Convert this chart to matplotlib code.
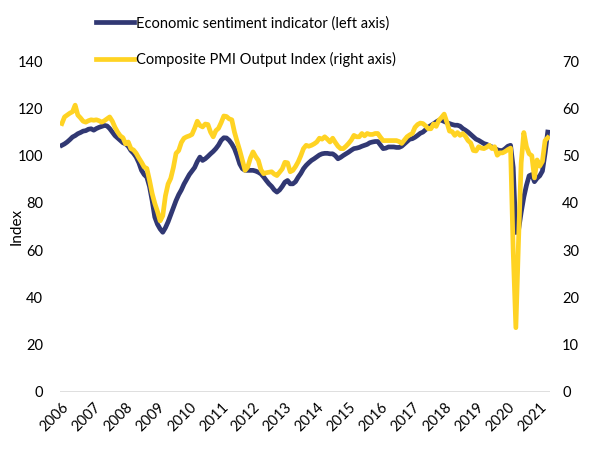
import numpy as np
import pandas as pd
from matplotlib import pyplot as plt

plt.rcParams['font.family'] = ['Lato', 'DejaVu Sans']

years = [str(y) for y in range(2006, 2022)]

esi = [104.4, 105.0, 105.8, 106.8, 107.9, 108.5, 109.3, 109.8, 110.4, 110.6, 111.2, 111.4,
       110.8, 111.5, 112.0, 112.4, 112.8, 112.6, 111.5, 110.0, 108.5, 107.5, 106.5, 105.5,
       105.0, 104.0, 102.2, 101.0, 99.4, 97.0, 93.8, 92.0, 90.9, 87.0, 81.0, 74.0,
       71.0, 69.0, 67.6, 69.5, 72.0, 75.0, 78.0, 81.0, 83.5, 85.5, 88.0, 90.0,
       92.0, 93.5, 95.0, 97.5, 99.4, 98.0, 98.7, 99.7, 100.8, 101.8, 103.0, 104.5,
       106.5, 107.6, 107.5, 106.5, 105.0, 103.0, 100.0, 96.5, 94.5, 93.8, 93.8, 93.8,
       93.8, 93.5, 93.0, 92.3, 91.0, 89.5, 88.1, 87.0, 85.5, 84.6, 85.5, 87.0,
       88.8, 89.5, 88.1, 88.1, 89.0, 90.9, 92.5, 94.5, 95.9, 97.0, 98.0, 98.7,
       99.5, 100.3, 100.8, 101.0, 101.0, 100.8, 100.8, 100.0, 98.7, 99.3, 100.1, 100.8,
       101.5, 102.3, 103.0, 103.2, 103.5, 104.0, 104.4, 104.8, 105.5, 105.8, 106.0, 106.0,
       104.5, 103.0, 103.2, 103.7, 103.7, 103.7, 103.5, 103.5, 104.0, 105.0, 106.0, 107.0,
       107.2, 107.8, 108.6, 109.5, 110.0, 111.0, 112.1, 112.8, 113.5, 114.3, 115.0, 115.0,
       114.5, 114.0, 113.6, 113.2, 112.9, 112.9, 112.5, 111.5, 110.8, 110.0, 109.0, 108.0,
       107.0, 106.5, 105.8, 105.1, 104.8, 104.2, 103.7, 103.2, 102.5, 102.2, 102.2, 103.0,
       104.0, 104.4, 95.0, 67.5, 68.5, 76.0, 82.5, 87.5, 91.5, 92.0, 89.0, 90.5,
       91.5, 93.5, 101.0, 110.0]

pmi = [56.8, 58.2, 58.6, 59.0, 59.3, 60.7, 58.6, 58.0, 57.3, 57.1, 57.4, 57.6,
       57.5, 57.6, 57.4, 57.1, 57.4, 57.8, 58.2, 57.3, 56.0, 55.0, 54.2, 53.8,
       52.5, 52.9, 51.5, 51.2, 50.5, 49.5, 48.6, 47.6, 47.3, 44.8, 42.0, 39.9,
       38.2, 36.2, 37.3, 41.5, 44.0, 45.2, 47.5, 50.5, 51.1, 52.8, 53.7, 54.0,
       54.2, 54.5, 55.8, 57.3, 56.4, 56.1, 56.7, 56.6, 55.0, 54.0, 55.3, 55.8,
       57.0, 58.4, 58.3, 57.8, 57.6, 55.0, 53.0, 51.1, 49.0, 46.9, 47.6, 49.5,
       50.8, 49.8, 49.0, 47.0, 46.2, 46.4, 46.5, 46.6, 46.1, 45.8, 46.5, 47.2,
       48.6, 48.5, 46.6, 46.9, 47.7, 48.7, 50.0, 51.5, 52.2, 52.0, 52.2, 52.5,
       52.9, 53.7, 53.5, 54.0, 53.5, 52.9, 53.7, 52.8, 52.0, 51.5, 51.5, 52.0,
       52.6, 53.3, 54.3, 54.0, 54.0, 54.7, 54.2, 54.7, 54.5, 54.5, 54.7, 54.7,
       53.9, 53.2, 53.2, 53.2, 53.2, 53.2, 53.2, 53.0, 52.6, 53.3, 54.0, 54.4,
       54.7, 56.0, 56.6, 56.9, 56.8, 56.3, 55.7, 55.7, 56.7, 56.2, 57.5, 58.1,
       58.8, 57.1, 55.2, 55.1, 54.3, 54.9, 54.3, 54.7, 54.1, 53.2, 52.7, 51.1,
       51.0, 51.9, 51.6, 51.5, 51.8, 52.2, 51.5, 51.9, 50.1, 50.6, 50.6, 50.9,
       51.3, 51.6, 29.7, 13.6, 31.9, 48.5, 54.9, 51.9, 50.4, 50.0, 45.3, 49.1,
       47.8, 48.8, 53.2, 53.8]

dates = pd.date_range('2006-01-01', periods=len(esi), freq='MS')
x = np.arange(len(dates))

navy = '#313873'
yellow = '#FFD323'

fig = plt.figure(figsize=(5.93, 4.5), dpi=100)
ax = fig.add_axes([0.101, 0.129, 0.826, 0.735])
ax2 = ax.twinx()

l1, = ax.plot(x, esi, color=navy, lw=3.4, solid_joinstyle='round',
              label='Economic sentiment indicator (left axis)')
l2, = ax2.plot(x, pmi, color=yellow, lw=3.4, solid_joinstyle='round',
               label='Composite PMI Output Index (right axis)')

ax.set_xlim(-0.75, len(x) - 0.25)
ax.set_ylim(0, 140)
ax2.set_ylim(0, 70)
ax.set_yticks(range(0, 141, 20))
ax2.set_yticks(range(0, 71, 10))

year_pos = [i for i, d in enumerate(dates) if d.month == 1]
ax.set_xticks(year_pos)
ax.set_xticklabels(years, rotation=45, ha='right', va='top', rotation_mode='anchor')

for a in (ax, ax2):
    for s in a.spines.values():
        s.set_visible(False)
    a.tick_params(length=0, labelsize=10.5, colors='#000000')
ax.tick_params(axis='y', pad=12)
ax2.tick_params(axis='y', pad=9)
ax.tick_params(axis='x', pad=6)
ax.axhline(0, color='#D9D9D9', lw=1.2, zorder=0)

ax.set_ylabel('Index', fontsize=11)
ax.yaxis.set_label_coords(-0.075, 0.5)

fig.legend(handles=[l1, l2], loc='upper left', bbox_to_anchor=(96 / 593, 1 - 16 / 450),
           frameon=False, fontsize=10.5, handlelength=2.6, handletextpad=0.15,
           labelspacing=1.5, borderpad=0, borderaxespad=0)

fig.savefig('out.png', dpi=100)
